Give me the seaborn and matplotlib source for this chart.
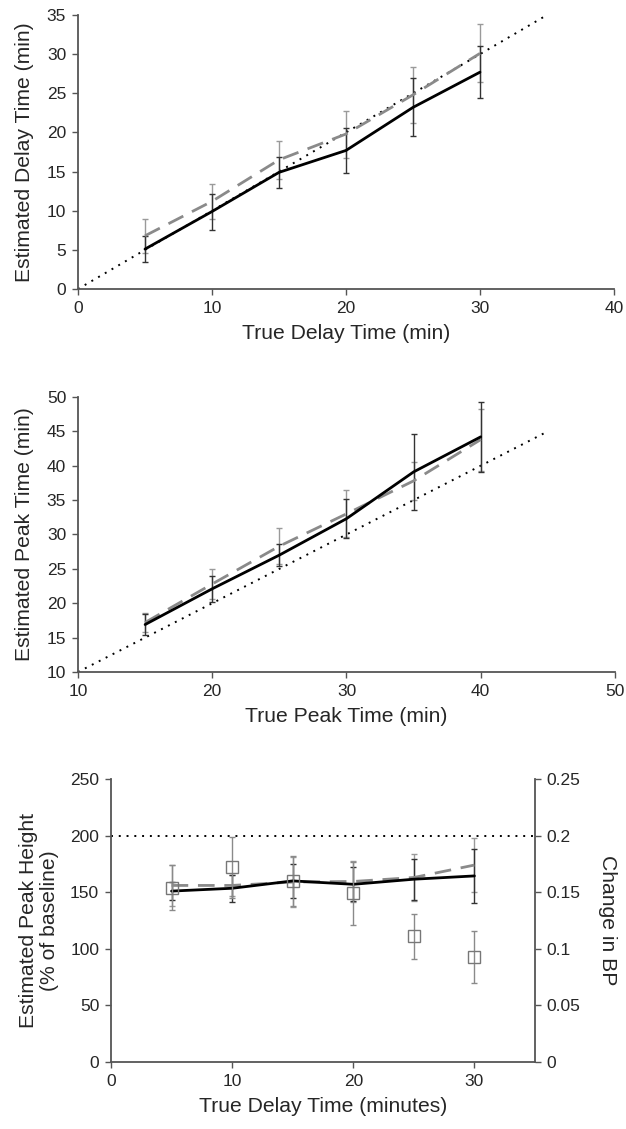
import matplotlib
matplotlib.use("Agg")
import matplotlib.pyplot as plt
import seaborn as sns
import numpy as np

# ---------------- data ----------------
# Panel A: delay time
delay_true = [5, 10, 15, 20, 25, 30]
delay_est_black = [5.1, 9.9, 14.9, 17.7, 23.2, 27.7]
delay_err_black = [1.7, 2.3, 2.0, 2.9, 3.7, 3.3]
delay_est_gray = [6.8, 11.2, 16.5, 19.8, 24.8, 30.1]
delay_err_gray = [2.2, 2.2, 2.4, 3.0, 3.6, 3.7]
delay_identity = [0, 35]

# Panel B: peak time
peak_true = [15, 20, 25, 30, 35, 40]
peak_est_black = [16.9, 22.1, 27.0, 32.3, 39.1, 44.2]
peak_err_black = [1.5, 1.9, 1.6, 2.8, 5.5, 5.1]
peak_est_gray = [17.2, 22.8, 28.3, 33.0, 37.8, 43.8]
peak_err_gray = [1.4, 2.2, 2.6, 3.4, 2.8, 4.5]
peak_identity = [10, 45]

# Panel C: peak height / change in BP
height_true = [5, 10, 15, 20, 25, 30]
height_black = [151, 153.5, 160, 157, 161.5, 164.4]
height_err_black = [8, 12, 15, 15, 18, 24]
height_gray = [156, 156, 159, 159.5, 163, 174]
height_err_gray = [18, 9, 22, 18, 21, 24]
bp_change = [0.154, 0.172, 0.160, 0.149, 0.111, 0.093]
bp_err = [0.020, 0.027, 0.022, 0.028, 0.020, 0.023]
height_ref = 200

xt1 = [0, 10, 20, 30, 40]
yt1 = [0, 5, 10, 15, 20, 25, 30, 35]
xt2 = [10, 20, 30, 40, 50]
yt2 = [10, 15, 20, 25, 30, 35, 40, 45, 50]
xt3 = [0, 10, 20, 30]
yt3 = [0, 50, 100, 150, 200, 250]
yt3r = [0, 0.05, 0.1, 0.15, 0.2, 0.25]
yt3r_labels = ["0", "0.05", "0.1", "0.15", "0.2", "0.25"]

# ---------------- style ----------------
sns.set_style("ticks")
plt.rcParams['font.family'] = ['Liberation Sans', 'DejaVu Sans']
SPINE = '#555555'
GRAY = '#8a8a8a'
TICK_FS = 12.5
LAB_FS = 15.2

fig = plt.figure(figsize=(6.26, 11.29), dpi=100)
ax1 = fig.add_axes([0.1246, 0.744, 0.8562, 0.2427])
ax2 = fig.add_axes([0.1246, 0.4048, 0.8578, 0.2436])
ax3 = fig.add_axes([0.1773, 0.0593, 0.6773, 0.2507])


def style(ax):
    for s in ['top', 'right']:
        ax.spines[s].set_visible(False)
    for s in ['left', 'bottom']:
        ax.spines[s].set_color(SPINE)
        ax.spines[s].set_linewidth(1.3)
    ax.tick_params(direction='out', length=4.5, width=1, color=SPINE,
                   labelsize=TICK_FS, pad=4)


def errs(ax, x, y, e, color):
    ax.errorbar(x, y, yerr=e, fmt='none', ecolor=color, elinewidth=1,
                capsize=2.5, capthick=1, zorder=3)


# Panel A
sns.lineplot(x=delay_identity, y=delay_identity, ax=ax1, color='black',
             linestyle=(0, (1, 3)), linewidth=1.4, zorder=2)
errs(ax1, delay_true, delay_est_gray, delay_err_gray, '#9a9a9a')
errs(ax1, delay_true, delay_est_black, delay_err_black, '#333333')
sns.lineplot(x=delay_true, y=delay_est_gray, ax=ax1, color=GRAY,
             linestyle=(0, (6, 3.5)), linewidth=2.0, zorder=4)
sns.lineplot(x=delay_true, y=delay_est_black, ax=ax1, color='black',
             linewidth=2.0, zorder=5)
ax1.set_xlim(0, 40)
ax1.set_ylim(0, 35)
ax1.set_xticks(xt1)
ax1.set_yticks(yt1)
ax1.set_xlabel("True Delay Time (min)", fontsize=LAB_FS, labelpad=6)
ax1.set_ylabel("Estimated Delay Time (min)", fontsize=LAB_FS, labelpad=9)
style(ax1)

# Panel B
sns.lineplot(x=peak_identity, y=peak_identity, ax=ax2, color='black',
             linestyle=(0, (1, 3)), linewidth=1.4, zorder=2)
errs(ax2, peak_true, peak_est_gray, peak_err_gray, '#9a9a9a')
errs(ax2, peak_true, peak_est_black, peak_err_black, '#333333')
sns.lineplot(x=peak_true, y=peak_est_gray, ax=ax2, color=GRAY,
             linestyle=(0, (6, 3.5)), linewidth=2.0, zorder=4)
sns.lineplot(x=peak_true, y=peak_est_black, ax=ax2, color='black',
             linewidth=2.0, zorder=5)
ax2.set_xlim(10, 50)
ax2.set_ylim(10, 50)
ax2.set_xticks(xt2)
ax2.set_yticks(yt2)
ax2.set_xlabel("True Peak Time (min)", fontsize=LAB_FS, labelpad=6)
ax2.set_ylabel("Estimated Peak Time (min)", fontsize=LAB_FS, labelpad=9)
style(ax2)

# Panel C
ax3.axhline(height_ref, color='black', linestyle=(0, (1, 3)), linewidth=1.4, zorder=2)
errs(ax3, height_true, height_gray, height_err_gray, '#9a9a9a')
errs(ax3, height_true, height_black, height_err_black, '#333333')
sns.lineplot(x=height_true, y=height_gray, ax=ax3, color=GRAY,
             linestyle=(0, (6, 3.5)), linewidth=2.0, zorder=4)
sns.lineplot(x=height_true, y=height_black, ax=ax3, color='black',
             linewidth=2.0, zorder=5)
ax3.set_xlim(0, 35)
ax3.set_ylim(0, 250)
ax3.set_xticks(xt3)
ax3.set_yticks(yt3)
ax3.set_xlabel("True Delay Time (minutes)", fontsize=LAB_FS, labelpad=6)
ax3.set_ylabel("Estimated Peak Height\n(% of baseline)", fontsize=LAB_FS,
               labelpad=8, linespacing=1.1)
style(ax3)

ax3r = ax3.twinx()
ax3r.errorbar(height_true, bp_change, yerr=bp_err, fmt='s', ms=9,
              mfc='none', mec='#777777', mew=1.0, ecolor='#8a8a8a',
              elinewidth=1, capsize=2.5, capthick=1, zorder=6)
ax3r.set_ylim(0, 0.25)
ax3r.set_yticks(yt3r)
ax3r.set_yticklabels(yt3r_labels)
ax3r.set_ylabel("Change in BP", fontsize=LAB_FS, rotation=270, labelpad=26)
for s in ['top', 'left', 'bottom']:
    ax3r.spines[s].set_visible(False)
ax3r.spines['right'].set_visible(True)
ax3r.spines['right'].set_color(SPINE)
ax3r.spines['right'].set_linewidth(1.3)
ax3r.tick_params(direction='out', length=4.5, width=1, color=SPINE,
                 labelsize=TICK_FS, pad=4)

fig.savefig("out.png", dpi=100)
